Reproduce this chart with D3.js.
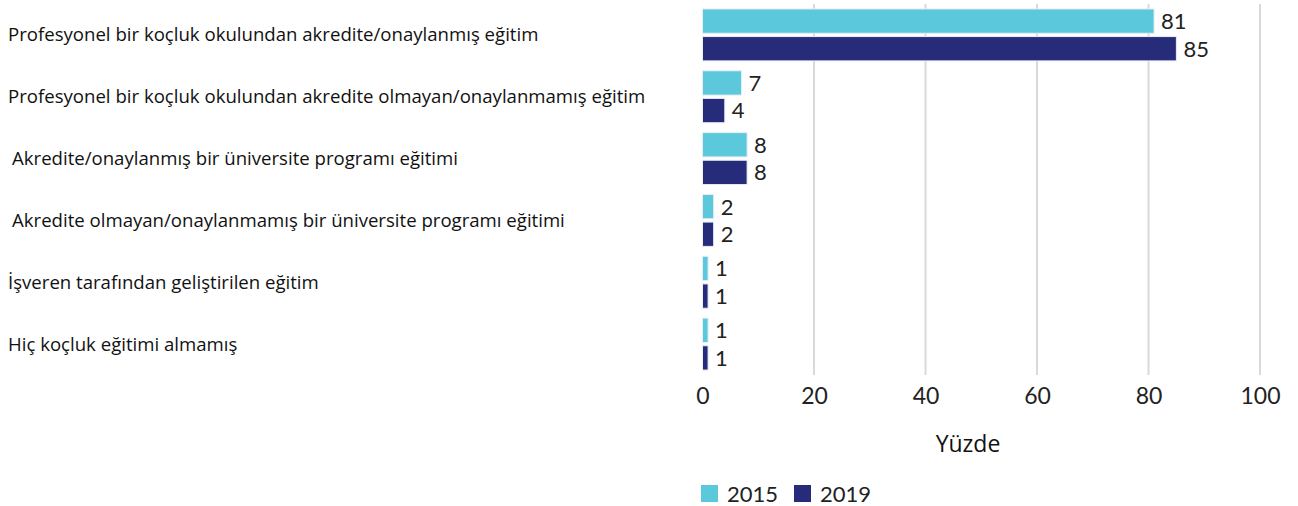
<!DOCTYPE html>
<html>
<head>
<meta charset="utf-8">
<script src="https://cdn.jsdelivr.net/npm/d3@7"></script>
<style>
  body { margin: 0; background: #fff; }
  .cat { font-family: "Open Sans", sans-serif; font-size: 18.6px; fill: #111; }
  .num { font-family: "Lato", sans-serif; font-size: 22px; fill: #222; }
</style>
</head>
<body>
<svg width="1298" height="506"></svg>
<script>
// chart data
var categories = [
  "Profesyonel bir koçluk okulundan akredite/onaylanmış eğitim",
  "Profesyonel bir koçluk okulundan akredite olmayan/onaylanmamış eğitim",
  "Akredite/onaylanmış bir üniversite programı eğitimi",
  "Akredite olmayan/onaylanmamış bir üniversite programı eğitimi",
  "İşveren tarafından geliştirilen eğitim",
  "Hiç koçluk eğitimi almamış"
];
var years = ["2015", "2019"];
var values2015 = [81, 7, 8, 2, 1, 1];
var values2019 = [85, 4, 8, 2, 1, 1];
var xTicks = [0, 20, 40, 60, 80, 100];

var colors = { "2015": "#5bc8db", "2019": "#262c7a" };

var svg = d3.select("svg");

var x = d3.scaleLinear().domain([0, 100]).range([702.5, 1260]);
var y = d3.scaleBand().domain(categories).range([4, 375]).paddingInner(0.16).paddingOuter(0.08);
var ySub = d3.scaleBand().domain(years).range([0, y.bandwidth()]).paddingInner(0.12);

// gridlines (no line at 0)
svg.append("g")
  .selectAll("line")
  .data(xTicks.filter(function (d) { return d > 0; }))
  .enter().append("line")
  .attr("x1", function (d) { return x(d); })
  .attr("x2", function (d) { return x(d); })
  .attr("y1", 4)
  .attr("y2", 375)
  .attr("stroke", "#d9d9d9")
  .attr("stroke-width", 2);

// rows of bars
var rows = categories.map(function (c, i) {
  return { cat: c, vals: [
    { year: "2015", v: values2015[i] },
    { year: "2019", v: values2019[i] }
  ] };
});

var group = svg.append("g")
  .selectAll("g")
  .data(rows)
  .enter().append("g")
  .attr("transform", function (d) { return "translate(0," + y(d.cat) + ")"; });

group.selectAll("rect")
  .data(function (d) { return d.vals; })
  .enter().append("rect")
  .attr("x", x(0))
  .attr("y", function (d) { return ySub(d.year); })
  .attr("width", function (d) { return x(d.v) - x(0); })
  .attr("height", ySub.bandwidth())
  .attr("fill", function (d) { return colors[d.year]; })
  .attr("stroke", "#e8eef5")
  .attr("stroke-width", 1);

group.selectAll("text")
  .data(function (d) { return d.vals; })
  .enter().append("text")
  .attr("class", "num")
  .attr("x", function (d) { return x(d.v) + 7; })
  .attr("y", function (d) { return ySub(d.year) + ySub.bandwidth() / 2; })
  .attr("dy", "0.36em")
  .text(function (d) { return d.v; });

// category labels
svg.append("g")
  .selectAll("text")
  .data(categories)
  .enter().append("text")
  .attr("class", "cat")
  .attr("x", function (d, i) { return (i == 2 || i == 3) ? 12 : 8; })
  .attr("y", function (d) { return y(d) + y.bandwidth() / 2; })
  .attr("dy", "0.35em")
  .text(function (d) { return d; });

// x axis
var xAxis = d3.axisBottom(x).tickValues(xTicks).tickSize(0).tickPadding(0);
var axisG = svg.append("g")
  .attr("transform", "translate(0,388)")
  .call(xAxis);
axisG.select(".domain").remove();
axisG.selectAll("text")
  .attr("font-family", "Lato, sans-serif")
  .attr("font-size", 23)
  .attr("fill", "#222")
  .attr("dy", "0.71em");

svg.append("text")
  .attr("x", 968)
  .attr("y", 452)
  .attr("text-anchor", "middle")
  .attr("font-family", "Open Sans, sans-serif")
  .attr("font-size", 23)
  .attr("fill", "#111")
  .text("Yüzde");

// legend
var legend = svg.append("g")
  .attr("transform", "translate(701,485)")
  .selectAll("g")
  .data(years)
  .enter().append("g")
  .attr("transform", function (d, i) { return "translate(" + (i * 93) + ",0)"; });

legend.append("rect")
  .attr("width", 17)
  .attr("height", 17)
  .attr("fill", function (d) { return colors[d]; });

legend.append("text")
  .attr("class", "num")
  .attr("x", 26)
  .attr("y", 9)
  .attr("dy", "0.36em")
  .text(function (d) { return d; });
</script>
</body>
</html>
